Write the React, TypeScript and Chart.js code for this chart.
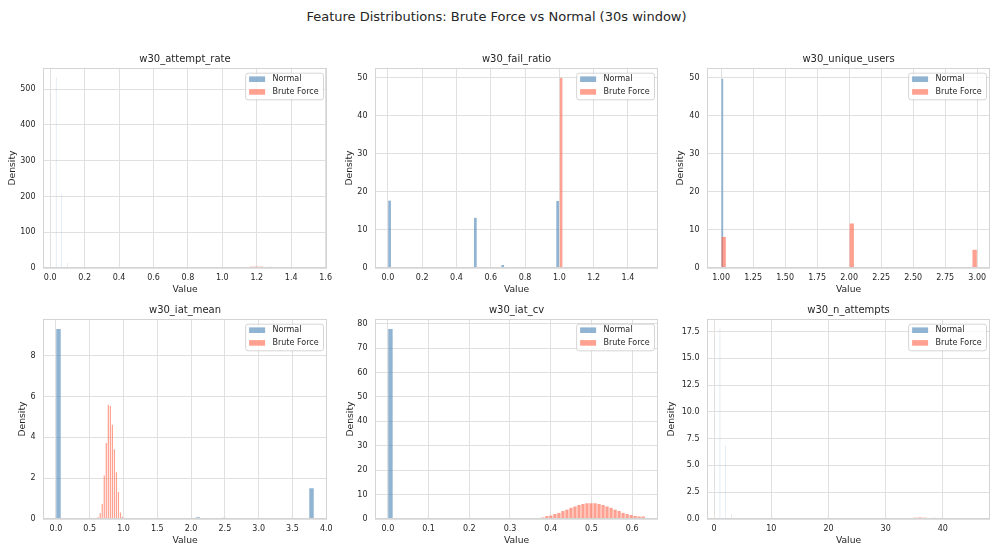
import React, { useEffect, useRef } from 'react';
import { Chart, registerables } from 'chart.js';

Chart.register(...registerables);

const N_BINS = 50;
const seriesNames = ['Normal', 'Brute Force'];
const mainTitle = 'Feature Distributions: Brute Force vs Normal (30s window)';
const xAxisLabel = 'Value';
const yAxisLabel = 'Density';

// ---- w30_attempt_rate
const attemptRateXLimits = [-0.042, 1.608];
const attemptRateYMax = 559;
const attemptRateXTicks = [0.2, 1];
const attemptRateYTicks = [100, 0];
const attemptRateNormalRange = [0.0333, 0.1];
const attemptRateNormalBins = [0, 25, 49];
const attemptRateNormalDensity = [533, 206, 14.7];
const attemptRateBruteRange = [0.2, 1.5333];
const attemptRateBruteBins = [30, 31, 32, 33, 35, 36, 37, 38, 40, 41, 42, 43, 45, 46, 47, 48, 49];
const attemptRateBruteDensity = [0.4, 0.6, 1.1, 2.3, 3.8, 4.9, 5.3, 4.9, 4.5, 3.8, 2.6, 1.7, 0.9, 0.5, 0.2, 0.15, 0.1];

// ---- w30_fail_ratio
const failRatioXLimits = [-0.075, 1.575];
const failRatioYMax = 52.5;
const failRatioXTicks = [0.2, 1];
const failRatioYTicks = [10, 0];
const failRatioNormalRange = [0, 1];
const failRatioNormalBins = [0, 25, 33, 49];
const failRatioNormalDensity = [17.8, 13.3, 0.9, 17.7];
const failRatioBruteRange = [0.5, 1.5];
const failRatioBruteBins = [25];
const failRatioBruteDensity = [50];

// ---- w30_unique_users
const uniqueUsersXLimits = [0.89, 3.1];
const uniqueUsersYMax = 52.5;
const uniqueUsersXTicks = [0.25, 2];
const uniqueUsersYTicks = [10, 0];
const uniqueUsersNormalRange = [0.5, 1.5];
const uniqueUsersNormalBins = [25];
const uniqueUsersNormalDensity = [49.8];
const uniqueUsersBruteRange = [1, 3];
const uniqueUsersBruteBins = [0, 25, 49];
const uniqueUsersBruteDensity = [8.3, 11.8, 4.9];

// ---- w30_iat_mean
const iatMeanXLimits = [-0.191, 4.011];
const iatMeanYMax = 9.8;
const iatMeanXTicks = [0.5, 1];
const iatMeanYTicks = [2, 0];
const iatMeanNormalRange = [0, 3.82];
const iatMeanNormalBins = [0, 14, 15, 16, 17, 18, 19, 20, 21, 22, 23, 24, 25, 26, 27, 28, 29, 30, 31, 32, 33, 34, 35, 36, 37, 38, 39, 40, 41, 42, 43, 44, 45, 46, 47, 48, 49];
const iatMeanNormalDensity = [9.33, 0.05, 0.04, 0.03, 0.05, 0.07, 0.06, 0.05, 0.06, 0.05, 0.06, 0.05, 0.05, 0.06, 0.1, 0.07, 0.06, 0.06, 0.07, 0.08, 0.06, 0.04, 0.05, 0.06, 0.05, 0.06, 0.07, 0.06, 0.05, 0.05, 0.06, 0.05, 0.06, 0.07, 0.05, 0.05, 1.53];
const iatMeanBruteRange = [0.46, 1.96];
const iatMeanBruteBins = [5, 6, 7, 8, 9, 10, 11, 12, 13, 14, 15, 16, 17, 18];
const iatMeanBruteDensity = [0.1, 0.3, 0.75, 2.15, 3.74, 5.62, 5.55, 4.64, 3.44, 2.31, 1.34, 0.34, 0.13, 0.05];

// ---- w30_iat_cv
const iatCvXLimits = [-0.0316, 0.6636];
const iatCvYMax = 81.9;
const iatCvXTicks = [0.1, 1];
const iatCvYTicks = [10, 0];
const iatCvNormalRange = [0, 0.632];
const iatCvNormalBins = [0, 24, 29, 33, 37, 41, 46];
const iatCvNormalDensity = [77.9, 0.2, 0.2, 0.3, 0.2, 0.2, 0.1];
const iatCvBruteRange = [0.1395, 0.632];
const iatCvBruteBins = [20, 21, 22, 23, 24, 25, 26, 27, 28, 29, 30, 31, 32, 33, 34, 35, 36, 37, 38, 39, 40, 41, 42, 43, 44, 45, 46, 47, 48, 49];
const iatCvBruteDensity = [0.1, 0.3, 0.4, 0.55, 0.8, 1.4, 1.6, 2.2, 2.7, 3.4, 4.0, 4.8, 5.3, 5.9, 6.3, 6.6, 6.6, 6.6, 6.3, 5.9, 5.3, 4.8, 4.0, 3.4, 2.7, 2.2, 1.8, 1.4, 1.2, 1.2];

// ---- w30_n_attempts
const nAttemptsXLimits = [-1.25, 48.25];
const nAttemptsYMax = 18.66;
const nAttemptsXTicks = [10, 0];
const nAttemptsYTicks = [2.5, 1];
const nAttemptsNormalRange = [1, 3];
const nAttemptsNormalBins = [0, 25, 49];
const nAttemptsNormalDensity = [17.77, 6.87, 0.49];
const nAttemptsBruteRange = [6, 46];
const nAttemptsBruteBins = [30, 31, 32, 33, 35, 36, 37, 38, 40, 41, 42, 43, 45, 46, 47, 48, 49];
const nAttemptsBruteDensity = [0.013, 0.02, 0.037, 0.075, 0.125, 0.163, 0.175, 0.163, 0.15, 0.125, 0.088, 0.056, 0.031, 0.015, 0.008, 0.005, 0.004];

// ---- styling
const FONT = 'DejaVu Sans';
const TEXT = '#262626';
const GRID = '#e0e0e0';
const FRAME = '#d4d4d4';
const NORMAL_COLOR = 'rgba(70,130,180,0.6)';
const BRUTE_COLOR = 'rgba(255,99,71,0.6)';
const EDGE = 'rgba(255,255,255,0.6)';
const EDGE_W = 0.35;
const Y_W = 42;
const PAD_R = 12;
const TITLE_H = 30;
const X_H = 28;
const PLOT_H = 200;

function histPoints(range: number[], bins: number[], dens: number[]) {
  const w = (range[1] - range[0]) / N_BINS;
  const pts: { x: number; y: number }[] = [];
  for (let i = 0; i < N_BINS; i++) {
    const k = bins.indexOf(i);
    pts.push({ x: range[0] + (i + 0.5) * w, y: k >= 0 ? dens[k] : 0 });
  }
  return pts;
}

// edges: whether the white bar edge is visible (very thin bins show only their fill)
const panels = [
  {
    title: 'w30_attempt_rate', xLim: attemptRateXLimits, yMax: attemptRateYMax, xT: attemptRateXTicks, yT: attemptRateYTicks,
    normal: histPoints(attemptRateNormalRange, attemptRateNormalBins, attemptRateNormalDensity),
    brute: histPoints(attemptRateBruteRange, attemptRateBruteBins, attemptRateBruteDensity),
    left: 43, top: 68, width: 284, yTitlePad: 5.8, edges: [false, true],
  },
  {
    title: 'w30_fail_ratio', xLim: failRatioXLimits, yMax: failRatioYMax, xT: failRatioXTicks, yT: failRatioYTicks,
    normal: histPoints(failRatioNormalRange, failRatioNormalBins, failRatioNormalDensity),
    brute: histPoints(failRatioBruteRange, failRatioBruteBins, failRatioBruteDensity),
    left: 375, top: 68, width: 283, yTitlePad: 10.8, edges: [true, true],
  },
  {
    title: 'w30_unique_users', xLim: uniqueUsersXLimits, yMax: uniqueUsersYMax, xT: uniqueUsersXTicks, yT: uniqueUsersYTicks,
    normal: histPoints(uniqueUsersNormalRange, uniqueUsersNormalBins, uniqueUsersNormalDensity),
    brute: histPoints(uniqueUsersBruteRange, uniqueUsersBruteBins, uniqueUsersBruteDensity),
    left: 707, top: 68, width: 283, yTitlePad: 10.5, edges: [true, true],
  },
  {
    title: 'w30_iat_mean', xLim: iatMeanXLimits, yMax: iatMeanYMax, xT: iatMeanXTicks, yT: iatMeanYTicks,
    normal: histPoints(iatMeanNormalRange, iatMeanNormalBins, iatMeanNormalDensity),
    brute: histPoints(iatMeanBruteRange, iatMeanBruteBins, iatMeanBruteDensity),
    left: 43, top: 319, width: 284, yTitlePad: 16.5, edges: [true, true],
  },
  {
    title: 'w30_iat_cv', xLim: iatCvXLimits, yMax: iatCvYMax, xT: iatCvXTicks, yT: iatCvYTicks,
    normal: histPoints(iatCvNormalRange, iatCvNormalBins, iatCvNormalDensity),
    brute: histPoints(iatCvBruteRange, iatCvBruteBins, iatCvBruteDensity),
    left: 375, top: 319, width: 283, yTitlePad: 11.8, edges: [true, true],
  },
  {
    title: 'w30_n_attempts', xLim: nAttemptsXLimits, yMax: nAttemptsYMax, xT: nAttemptsXTicks, yT: nAttemptsYTicks,
    normal: histPoints(nAttemptsNormalRange, nAttemptsNormalBins, nAttemptsNormalDensity),
    brute: histPoints(nAttemptsBruteRange, nAttemptsBruteBins, nAttemptsBruteDensity),
    left: 707, top: 319, width: 283, yTitlePad: 1.5, edges: [false, true],
  },
];

const frameAndLegend = {
  id: 'frameAndLegend',
  afterDatasetsDraw(chart: any) {
    const { ctx, chartArea: a } = chart;
    ctx.save();
    ctx.strokeStyle = FRAME;
    ctx.lineWidth = 1;
    const l = Math.round(a.left) + 0.5, t = Math.round(a.top) + 0.5;
    const r = Math.round(a.right) - 0.5, b = Math.round(a.bottom) - 0.5;
    ctx.strokeRect(l, t, r - l, b - t);
    ctx.font = `8px "${FONT}"`;
    const ds = chart.data.datasets;
    const textW = Math.max(...ds.map((d: any) => ctx.measureText(d.label).width));
    const w = 4 + 16 + 7.4 + textW + 4.4;
    const h = 26.6;
    const x = a.right - 4 - w;
    const y = a.top + 4.7;
    ctx.beginPath();
    if (ctx.roundRect) ctx.roundRect(x + 0.5, y + 0.5, w, h, 2.5); else ctx.rect(x + 0.5, y + 0.5, w, h);
    ctx.fillStyle = 'rgba(255,255,255,0.8)';
    ctx.fill();
    ctx.strokeStyle = '#cccccc';
    ctx.lineWidth = 0.8;
    ctx.stroke();
    ds.forEach((d: any, i: number) => {
      const cy = y + 6.5 + i * 12.7;
      ctx.fillStyle = d.backgroundColor;
      ctx.fillRect(x + 4, cy - 2.8, 16, 5.6);
      ctx.fillStyle = TEXT;
      ctx.textBaseline = 'middle';
      ctx.textAlign = 'left';
      ctx.fillText(d.label, x + 27.4, cy);
    });
    ctx.restore();
  },
};

function Panel({ p }: { p: any }) {
  const ref = useRef<HTMLCanvasElement>(null);
  const cw = p.width + Y_W + PAD_R;
  const ch = TITLE_H + PLOT_H + X_H;
  useEffect(() => {
    const barCommon = {
      barPercentage: 1,
      categoryPercentage: 1,
      grouped: false,
      borderColor: EDGE,
      borderSkipped: 'start',
      inflateAmount: 0,
    };
    const chart = new Chart(ref.current as HTMLCanvasElement, {
      type: 'bar',
      data: {
        datasets: [
          { ...barCommon, label: seriesNames[0], data: p.normal, xAxisID: 'x', backgroundColor: NORMAL_COLOR, borderWidth: p.edges[0] ? EDGE_W : 0, order: 1 },
          { ...barCommon, label: seriesNames[1], data: p.brute, xAxisID: 'x2', backgroundColor: BRUTE_COLOR, borderWidth: p.edges[1] ? EDGE_W : 0, order: 0 },
        ] as any,
      },
      options: {
        animation: false,
        responsive: false,
        devicePixelRatio: 1,
        events: [],
        layout: { padding: { left: 0, right: PAD_R, top: 0, bottom: 0 } },
        plugins: {
          legend: { display: false },
          tooltip: { enabled: false },
          title: {
            display: true,
            text: p.title,
            fullSize: false,
            color: TEXT,
            font: { family: FONT, size: 10, weight: 'normal' },
            padding: { top: 15.3, bottom: 2.7 },
          },
        },
        scales: {
          x: {
            type: 'linear',
            offset: false,
            min: p.xLim[0],
            max: p.xLim[1],
            grid: { color: GRID, lineWidth: 1, drawTicks: false, offset: false },
            border: { display: false },
            ticks: {
              stepSize: p.xT[0],
              includeBounds: false,
              autoSkip: false,
              maxRotation: 0,
              minRotation: 0,
              padding: 5.5,
              color: TEXT,
              font: { family: FONT, size: 8 },
              callback: (v: any) => Number(v).toFixed(p.xT[1]),
            },
            title: {
              display: true,
              text: xAxisLabel,
              color: TEXT,
              font: { family: FONT, size: 9.2 },
              padding: { top: 0, bottom: 0.5 },
            },
            afterFit: (s: any) => { s.height = X_H; },
          },
          x2: {
            type: 'linear',
            position: 'bottom',
            offset: false,
            min: p.xLim[0],
            max: p.xLim[1],
            display: false,
            grid: { offset: false },
          },
          y: {
            type: 'linear',
            min: 0,
            max: p.yMax,
            grid: { color: GRID, lineWidth: 1, drawTicks: false },
            border: { display: false },
            ticks: {
              stepSize: p.yT[0],
              includeBounds: false,
              padding: 7.5,
              color: TEXT,
              font: { family: FONT, size: 8 },
              callback: (v: any) => Number(v).toFixed(p.yT[1]),
            },
            title: {
              display: true,
              text: yAxisLabel,
              color: TEXT,
              font: { family: FONT, size: 9.2 },
              padding: { top: p.yTitlePad, bottom: 0 },
            },
            afterFit: (s: any) => { s.width = Y_W; },
          },
        },
      } as any,
      plugins: [frameAndLegend],
    });
    return () => chart.destroy();
  }, []);
  return (
    <canvas
      ref={ref}
      width={cw}
      height={ch}
      style={{ position: 'absolute', left: p.left - Y_W, top: p.top - TITLE_H, width: cw, height: ch }}
    />
  );
}

export default function App() {
  return (
    <div style={{ position: 'absolute', left: 0, top: 0, width: 993, height: 550, background: '#ffffff', overflow: 'hidden', fontFamily: `"${FONT}", sans-serif` }}>
      <div style={{ position: 'absolute', left: 0, top: 9, width: 993, textAlign: 'center', fontSize: 13, lineHeight: '16px', color: TEXT }}>
        {mainTitle}
      </div>
      {panels.map((p) => (
        <Panel key={p.title} p={p} />
      ))}
    </div>
  );
}
